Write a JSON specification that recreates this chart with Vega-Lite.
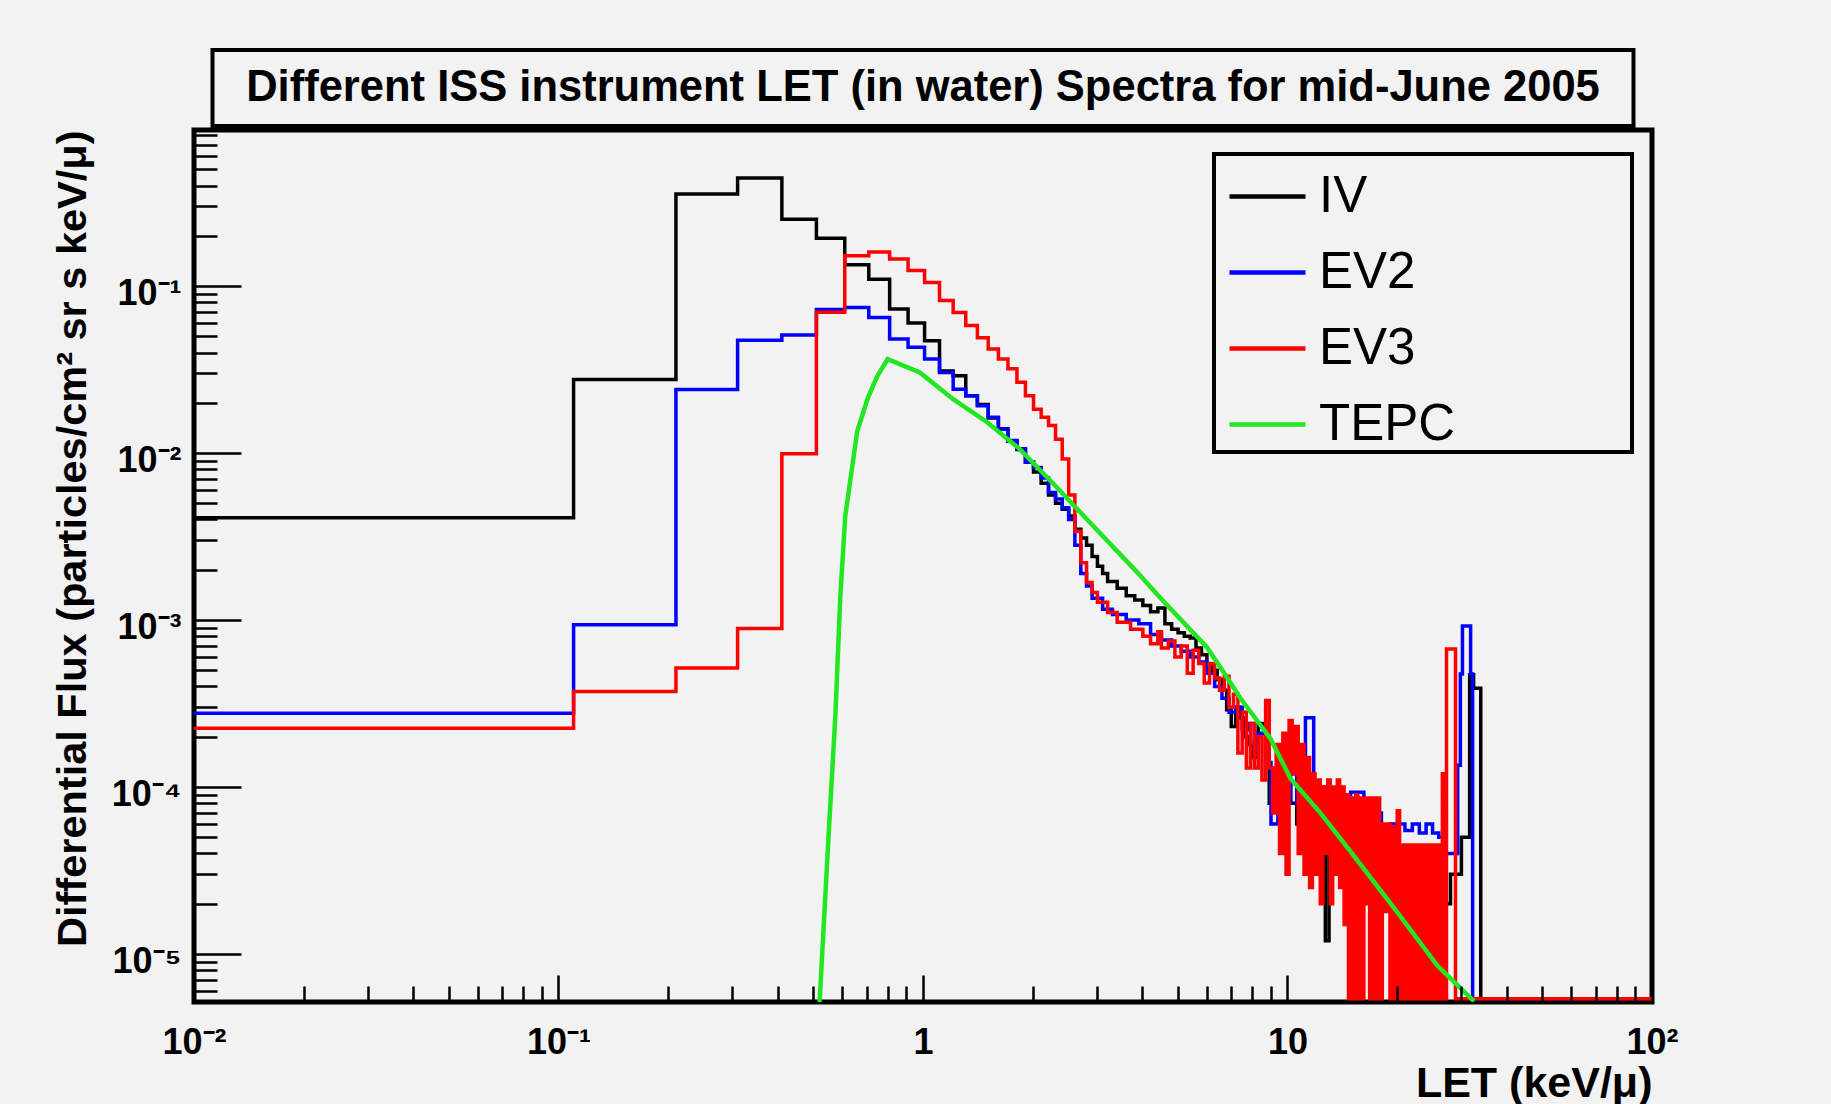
{
  "$schema": "https://vega.github.io/schema/vega-lite/v6.json",
  "background": "#f2f2f2",
  "padding": {"left": 49, "top": 48, "right": 153, "bottom": 0},
  "autosize": {"type": "pad"},
  "bounds": "flush",
  "center": true,
  "spacing": 4,
  "resolve": {"scale": {"color": "independent"}},
  "config": {"font": "Liberation Sans", "view": {"stroke": null}, "legend": {"strokeWidth": 4}},
  "vconcat": [
    {
      "width": 1421,
      "height": 76,
      "view": {"stroke": "#000000", "strokeWidth": 4, "fill": "#f2f2f2"},
      "data": {"values": [{"t": "Different ISS instrument LET (in water) Spectra for mid-June 2005"}]},
      "mark": {"type": "text", "font": "Liberation Sans", "fontWeight": "bold", "fontSize": 43.5, "color": "#000000"},
      "encoding": {"text": {"field": "t"}}
    },
    {
      "width": 1458,
      "height": 872,
      "view": {"stroke": "#000000", "strokeWidth": 5, "fill": "#f2f2f2"},
      "data": {"values": [
        {"s":"IV","x":0.01,"y":0.0041},{"s":"IV","x":0.11,"y":0.0276},{"s":"IV","x":0.21,"y":0.356},{"s":"IV","x":0.31,"y":0.443},{"s":"IV","x":0.41,"y":0.251},{"s":"IV","x":0.51,"y":0.193},{"s":"IV","x":0.61,"y":0.134},{"s":"IV","x":0.71,"y":0.110},{"s":"IV","x":0.81,"y":0.073},{"s":"IV","x":0.91,"y":0.060},{"s":"IV","x":1.01,"y":0.047},{"s":"IV","x":1.11,"y":0.031},{"s":"IV","x":1.21,"y":0.029},{"s":"IV","x":1.31,"y":0.022},{"s":"IV","x":1.41,"y":0.0195},{"s":"IV","x":1.51,"y":0.0162},{"s":"IV","x":1.61,"y":0.014},{"s":"IV","x":1.71,"y":0.0118},{"s":"IV","x":1.81,"y":0.0105},{"s":"IV","x":1.91,"y":0.0088},{"s":"IV","x":2.01,"y":0.0077},{"s":"IV","x":2.11,"y":0.0066},{"s":"IV","x":2.21,"y":0.0056},{"s":"IV","x":2.31,"y":0.0050},{"s":"IV","x":2.41,"y":0.0046},{"s":"IV","x":2.51,"y":0.0042},{"s":"IV","x":2.61,"y":0.0035},{"s":"IV","x":2.71,"y":0.0031},{"s":"IV","x":2.81,"y":0.0028},{"s":"IV","x":2.91,"y":0.0024},{"s":"IV","x":3.01,"y":0.0021},{"s":"IV","x":3.11,"y":0.0019},{"s":"IV","x":3.21,"y":0.0017},{"s":"IV","x":3.41,"y":0.00155},{"s":"IV","x":3.61,"y":0.0014},{"s":"IV","x":3.81,"y":0.00132},{"s":"IV","x":4.01,"y":0.00122},{"s":"IV","x":4.21,"y":0.00112},{"s":"IV","x":4.41,"y":0.00118},{"s":"IV","x":4.61,"y":0.00095},{"s":"IV","x":4.81,"y":0.00088},{"s":"IV","x":5.01,"y":0.00084},{"s":"IV","x":5.21,"y":0.00080},{"s":"IV","x":5.41,"y":0.00078},{"s":"IV","x":5.61,"y":0.00068},{"s":"IV","x":5.81,"y":0.00062},{"s":"IV","x":6.01,"y":0.00054},{"s":"IV","x":6.21,"y":0.00050},{"s":"IV","x":6.41,"y":0.00044},{"s":"IV","x":6.61,"y":0.00038},{"s":"IV","x":6.81,"y":0.00029},{"s":"IV","x":7.01,"y":0.00023},{"s":"IV","x":7.21,"y":0.00030},{"s":"IV","x":7.41,"y":0.00026},{"s":"IV","x":7.61,"y":0.00020},{"s":"IV","x":7.81,"y":0.00018},{"s":"IV","x":8.01,"y":0.00015},{"s":"IV","x":8.31,"y":0.00024},{"s":"IV","x":8.61,"y":0.00023},{"s":"IV","x":8.91,"y":0.00008},{"s":"IV","x":9.21,"y":0.00012},{"s":"IV","x":9.51,"y":0.00007},{"s":"IV","x":9.81,"y":0.00011},{"s":"IV","x":10.2,"y":0.00008},{"s":"IV","x":10.6,"y":0.00006},{"s":"IV","x":11.0,"y":0.00009},{"s":"IV","x":11.3,"y":0.00005},{"s":"IV","x":11.6,"y":0.000075},{"s":"IV","x":12.0,"y":0.00006},{"s":"IV","x":12.4,"y":0.00004},{"s":"IV","x":12.7,"y":0.000012},{"s":"IV","x":13.0,"y":0.00005},{"s":"IV","x":13.4,"y":0.00003},{"s":"IV","x":13.8,"y":0.00006},{"s":"IV","x":14.4,"y":0.00004},{"s":"IV","x":15.0,"y":0.00005},{"s":"IV","x":15.5,"y":0.0000054},{"s":"IV","x":16.0,"y":0.00004},{"s":"IV","x":16.6,"y":0.00003},{"s":"IV","x":17.2,"y":0.00005},{"s":"IV","x":18.0,"y":0.00004},{"s":"IV","x":19.0,"y":0.00004},{"s":"IV","x":20.0,"y":0.00003},{"s":"IV","x":21.6,"y":0.0000054},{"s":"IV","x":22.2,"y":0.00004},{"s":"IV","x":23.0,"y":0.00004},{"s":"IV","x":25.0,"y":0.00003},{"s":"IV","x":27.0,"y":0.00002},{"s":"IV","x":28.0,"y":0.00003},{"s":"IV","x":30.0,"y":0.00005},{"s":"IV","x":31.6,"y":0.00047},{"s":"IV","x":32.4,"y":0.00039},{"s":"IV","x":33.9,"y":0.0000054},{"s":"IV","x":100,"y":0.0000054},

        {"s":"EV2","x":0.01,"y":0.000277},{"s":"EV2","x":0.11,"y":0.000936},{"s":"EV2","x":0.21,"y":0.0240},{"s":"EV2","x":0.31,"y":0.0473},{"s":"EV2","x":0.41,"y":0.051},{"s":"EV2","x":0.51,"y":0.0725},{"s":"EV2","x":0.61,"y":0.0745},{"s":"EV2","x":0.71,"y":0.0649},{"s":"EV2","x":0.81,"y":0.0482},{"s":"EV2","x":0.91,"y":0.043},{"s":"EV2","x":1.01,"y":0.0366},{"s":"EV2","x":1.11,"y":0.0304},{"s":"EV2","x":1.21,"y":0.0241},{"s":"EV2","x":1.31,"y":0.022},{"s":"EV2","x":1.41,"y":0.0192},{"s":"EV2","x":1.51,"y":0.0164},{"s":"EV2","x":1.61,"y":0.0139},{"s":"EV2","x":1.71,"y":0.0119},{"s":"EV2","x":1.81,"y":0.0106},{"s":"EV2","x":1.91,"y":0.0088},{"s":"EV2","x":2.01,"y":0.0082},{"s":"EV2","x":2.11,"y":0.0071},{"s":"EV2","x":2.21,"y":0.0058},{"s":"EV2","x":2.31,"y":0.0053},{"s":"EV2","x":2.41,"y":0.0047},{"s":"EV2","x":2.51,"y":0.0040},{"s":"EV2","x":2.61,"y":0.0028},{"s":"EV2","x":2.71,"y":0.0019},{"s":"EV2","x":2.81,"y":0.0016},{"s":"EV2","x":2.91,"y":0.00135},{"s":"EV2","x":3.11,"y":0.00116},{"s":"EV2","x":3.31,"y":0.00108},{"s":"EV2","x":3.61,"y":0.00100},{"s":"EV2","x":3.91,"y":0.00095},{"s":"EV2","x":4.21,"y":0.00082},{"s":"EV2","x":4.51,"y":0.00076},{"s":"EV2","x":4.81,"y":0.00070},{"s":"EV2","x":5.11,"y":0.00065},{"s":"EV2","x":5.41,"y":0.00060},{"s":"EV2","x":5.71,"y":0.00056},{"s":"EV2","x":6.01,"y":0.00048},{"s":"EV2","x":6.31,"y":0.00040},{"s":"EV2","x":6.61,"y":0.00034},{"s":"EV2","x":6.91,"y":0.00028},{"s":"EV2","x":7.21,"y":0.00030},{"s":"EV2","x":7.51,"y":0.00022},{"s":"EV2","x":7.81,"y":0.00024},{"s":"EV2","x":8.11,"y":0.00016},{"s":"EV2","x":8.31,"y":0.00021},{"s":"EV2","x":8.71,"y":0.00014},{"s":"EV2","x":9.01,"y":0.00006},{"s":"EV2","x":9.41,"y":0.00011},{"s":"EV2","x":9.81,"y":0.00008},{"s":"EV2","x":10.2,"y":0.00012},{"s":"EV2","x":10.6,"y":0.00008},{"s":"EV2","x":11.0,"y":0.00015},{"s":"EV2","x":11.2,"y":0.00026},{"s":"EV2","x":11.8,"y":0.00008},{"s":"EV2","x":12.4,"y":0.00010},{"s":"EV2","x":13.0,"y":0.00007},{"s":"EV2","x":13.9,"y":0.00009},{"s":"EV2","x":14.9,"y":0.000093},{"s":"EV2","x":16.2,"y":0.000085},{"s":"EV2","x":17.0,"y":0.00007},{"s":"EV2","x":18.1,"y":0.000058},{"s":"EV2","x":19.1,"y":0.00006},{"s":"EV2","x":20.0,"y":0.00006},{"s":"EV2","x":21.0,"y":0.000055},{"s":"EV2","x":22.0,"y":0.00006},{"s":"EV2","x":23.0,"y":0.000053},{"s":"EV2","x":24.0,"y":0.00006},{"s":"EV2","x":25.0,"y":0.000053},{"s":"EV2","x":26.0,"y":0.00005},{"s":"EV2","x":27.0,"y":0.00004},{"s":"EV2","x":29.3,"y":0.000135},{"s":"EV2","x":29.8,"y":0.000475},{"s":"EV2","x":30.2,"y":0.00092},{"s":"EV2","x":31.8,"y":0.000475},{"s":"EV2","x":32.2,"y":0.0000054},{"s":"EV2","x":100,"y":0.0000054},

        {"s":"EV3","x":0.01,"y":0.000225},{"s":"EV3","x":0.11,"y":0.000373},{"s":"EV3","x":0.21,"y":0.000516},{"s":"EV3","x":0.31,"y":0.00089},{"s":"EV3","x":0.41,"y":0.0099},{"s":"EV3","x":0.51,"y":0.0698},{"s":"EV3","x":0.61,"y":0.152},{"s":"EV3","x":0.71,"y":0.160},{"s":"EV3","x":0.81,"y":0.145},{"s":"EV3","x":0.91,"y":0.124},{"s":"EV3","x":1.01,"y":0.105},{"s":"EV3","x":1.11,"y":0.082},{"s":"EV3","x":1.21,"y":0.0695},{"s":"EV3","x":1.31,"y":0.058},{"s":"EV3","x":1.41,"y":0.049},{"s":"EV3","x":1.51,"y":0.042},{"s":"EV3","x":1.61,"y":0.0366},{"s":"EV3","x":1.71,"y":0.032},{"s":"EV3","x":1.81,"y":0.0265},{"s":"EV3","x":1.91,"y":0.022},{"s":"EV3","x":2.01,"y":0.0183},{"s":"EV3","x":2.11,"y":0.0164},{"s":"EV3","x":2.21,"y":0.0146},{"s":"EV3","x":2.31,"y":0.0121},{"s":"EV3","x":2.41,"y":0.0092},{"s":"EV3","x":2.51,"y":0.0056},{"s":"EV3","x":2.61,"y":0.0034},{"s":"EV3","x":2.71,"y":0.0022},{"s":"EV3","x":2.81,"y":0.00168},{"s":"EV3","x":2.91,"y":0.00146},{"s":"EV3","x":3.01,"y":0.00128},{"s":"EV3","x":3.21,"y":0.00111},{"s":"EV3","x":3.41,"y":0.00097},{"s":"EV3","x":3.71,"y":0.00088},{"s":"EV3","x":4.01,"y":0.00080},{"s":"EV3","x":4.21,"y":0.00072},{"s":"EV3","x":4.41,"y":0.00085},{"s":"EV3","x":4.51,"y":0.00068},{"s":"EV3","x":4.71,"y":0.00075},{"s":"EV3","x":4.91,"y":0.00060},{"s":"EV3","x":5.11,"y":0.00070},{"s":"EV3","x":5.31,"y":0.00048},{"s":"EV3","x":5.51,"y":0.00066},{"s":"EV3","x":5.71,"y":0.00055},{"s":"EV3","x":5.91,"y":0.00042},{"s":"EV3","x":6.11,"y":0.00055},{"s":"EV3","x":6.31,"y":0.00045},{"s":"EV3","x":6.51,"y":0.00038},{"s":"EV3","x":6.71,"y":0.00046},{"s":"EV3","x":6.91,"y":0.00030},{"s":"EV3","x":7.11,"y":0.00036},{"s":"EV3","x":7.31,"y":0.00016},{"s":"EV3","x":7.51,"y":0.00028},{"s":"EV3","x":7.71,"y":0.00013},{"s":"EV3","x":7.91,"y":0.00024},{"s":"EV3","x":8.11,"y":0.00013},{"s":"EV3","x":8.31,"y":0.00020},{"s":"EV3","x":8.51,"y":0.00011},{"s":"EV3","x":8.71,"y":0.00033},{"s":"EV3","x":8.91,"y":0.00013},{"s":"EV3","x":9.11,"y":0.00007},{"s":"EV3","x":9.31,"y":0.00018},{"s":"EV3","x":9.51,"y":0.00004},{"s":"EV3","x":9.71,"y":0.00021},{"s":"EV3","x":9.91,"y":0.00003},{"s":"EV3","x":10.1,"y":0.00025},{"s":"EV3","x":10.3,"y":0.00012},{"s":"EV3","x":10.5,"y":0.00023},{"s":"EV3","x":10.7,"y":0.00004},{"s":"EV3","x":10.9,"y":0.00018},{"s":"EV3","x":11.1,"y":0.00003},{"s":"EV3","x":11.3,"y":0.00015},{"s":"EV3","x":11.5,"y":0.000025},{"s":"EV3","x":11.7,"y":0.00012},{"s":"EV3","x":11.9,"y":0.00003},{"s":"EV3","x":12.1,"y":0.00011},{"s":"EV3","x":12.3,"y":0.00002},{"s":"EV3","x":12.5,"y":0.00010},{"s":"EV3","x":12.7,"y":0.00004},{"s":"EV3","x":12.9,"y":0.00011},{"s":"EV3","x":13.1,"y":0.00002},{"s":"EV3","x":13.3,"y":0.00010},{"s":"EV3","x":13.5,"y":0.00003},{"s":"EV3","x":13.7,"y":0.00011},{"s":"EV3","x":13.9,"y":0.000025},{"s":"EV3","x":14.1,"y":0.00010},{"s":"EV3","x":14.3,"y":0.000015},{"s":"EV3","x":14.5,"y":0.00009},{"s":"EV3","x":14.7,"y":0.0000054},{"s":"EV3","x":15.0,"y":0.000086},{"s":"EV3","x":15.2,"y":0.0000054},{"s":"EV3","x":15.4,"y":0.00009},{"s":"EV3","x":15.6,"y":0.0000054},{"s":"EV3","x":15.8,"y":0.000086},{"s":"EV3","x":16.0,"y":0.0000054},{"s":"EV3","x":16.2,"y":0.000086},{"s":"EV3","x":16.4,"y":0.00002},{"s":"EV3","x":16.6,"y":0.000086},{"s":"EV3","x":16.8,"y":0.0000054},{"s":"EV3","x":17.0,"y":0.000086},{"s":"EV3","x":17.3,"y":0.0000054},{"s":"EV3","x":17.6,"y":0.000086},{"s":"EV3","x":17.9,"y":0.0000054},{"s":"EV3","x":18.2,"y":0.00006},{"s":"EV3","x":18.5,"y":0.000018},{"s":"EV3","x":18.8,"y":0.00006},{"s":"EV3","x":19.1,"y":0.0000054},{"s":"EV3","x":19.4,"y":0.000058},{"s":"EV3","x":19.7,"y":0.0000054},{"s":"EV3","x":20.0,"y":0.000072},{"s":"EV3","x":20.3,"y":0.0000054},{"s":"EV3","x":20.6,"y":0.000045},{"s":"EV3","x":20.9,"y":0.0000054},{"s":"EV3","x":21.2,"y":0.000045},{"s":"EV3","x":21.5,"y":0.0000054},{"s":"EV3","x":21.8,"y":0.000045},{"s":"EV3","x":22.1,"y":0.0000054},{"s":"EV3","x":22.4,"y":0.000045},{"s":"EV3","x":22.7,"y":0.0000054},{"s":"EV3","x":23.0,"y":0.000045},{"s":"EV3","x":23.3,"y":0.0000054},{"s":"EV3","x":23.6,"y":0.000045},{"s":"EV3","x":23.9,"y":0.0000054},{"s":"EV3","x":24.2,"y":0.000045},{"s":"EV3","x":24.5,"y":0.0000054},{"s":"EV3","x":24.8,"y":0.000045},{"s":"EV3","x":25.1,"y":0.0000054},{"s":"EV3","x":25.4,"y":0.000045},{"s":"EV3","x":25.7,"y":0.0000054},{"s":"EV3","x":26.0,"y":0.000045},{"s":"EV3","x":26.3,"y":0.0000054},{"s":"EV3","x":26.6,"y":0.00012},{"s":"EV3","x":27.0,"y":0.0000054},{"s":"EV3","x":27.3,"y":0.00067},{"s":"EV3","x":28.9,"y":0.0000054},{"s":"EV3","x":100,"y":0.0000054},

        {"s":"TEPC","x":0.52,"y":0.000005},{"s":"TEPC","x":0.551,"y":0.000052},{"s":"TEPC","x":0.575,"y":0.00027},{"s":"TEPC","x":0.593,"y":0.00137},{"s":"TEPC","x":0.612,"y":0.0042},{"s":"TEPC","x":0.66,"y":0.0135},{"s":"TEPC","x":0.706,"y":0.0214},{"s":"TEPC","x":0.75,"y":0.029},{"s":"TEPC","x":0.80,"y":0.0365},{"s":"TEPC","x":0.98,"y":0.0304},{"s":"TEPC","x":1.21,"y":0.021},{"s":"TEPC","x":1.5,"y":0.0153},{"s":"TEPC","x":1.84,"y":0.0106},{"s":"TEPC","x":2.285,"y":0.0065},{"s":"TEPC","x":2.82,"y":0.0040},{"s":"TEPC","x":3.87,"y":0.00193},{"s":"TEPC","x":4.5,"y":0.00134},{"s":"TEPC","x":6.0,"y":0.00069},{"s":"TEPC","x":6.55,"y":0.00052},{"s":"TEPC","x":7.43,"y":0.00034},{"s":"TEPC","x":8.99,"y":0.000194},{"s":"TEPC","x":10.2,"y":0.000112},{"s":"TEPC","x":12.3,"y":0.00007},{"s":"TEPC","x":14.9,"y":0.000041},{"s":"TEPC","x":20.0,"y":0.0000178},{"s":"TEPC","x":25.8,"y":0.0000085},{"s":"TEPC","x":32.5,"y":0.0000052}
      ]},
      "encoding": {
        "x": {
          "field": "x", "type": "quantitative",
          "scale": {"type": "log", "domain": [0.01, 100], "nice": false},
          "axis": {
            "values": [0.01,0.02,0.03,0.04,0.05,0.06,0.07,0.08,0.09,0.1,0.2,0.3,0.4,0.5,0.6,0.7,0.8,0.9,1,2,3,4,5,6,7,8,9,10,20,30,40,50,60,70,80,90,100],
            "labelExpr": "abs(log(datum.value)/LN10 - round(log(datum.value)/LN10)) < 0.001 ? ['10⁻²','10⁻¹','1','10','10²'][round(log(datum.value)/LN10)+2] : ''",
            "tickSize": {"condition": {"test": "abs(log(datum.value)/LN10 - round(log(datum.value)/LN10)) < 0.001", "value": -27}, "value": -16},
            "tickWidth": 2.5, "tickColor": "#000000", "domain": false, "grid": false,
            "labelFont": "Liberation Sans", "labelFontWeight": "bold", "labelFontSize": 36, "labelColor": "#000000",
            "labelPadding": 50, "labelOverlap": false, "labelFlush": false, "labelBound": false,
            "title": "LET (keV/μ)", "titleFont": "Liberation Sans", "titleFontSize": 43, "titleFontWeight": "bold", "titleColor": "#000000",
            "titleAnchor": "end", "titlePadding": -9, "zindex": 1
          }
        },
        "y": {
          "field": "y", "type": "quantitative",
          "scale": {"type": "log", "domain": [0.00000516, 0.86], "nice": false},
          "axis": {
            "values": [0.000006,0.000007,0.000008,0.000009,0.00001,0.00002,0.00003,0.00004,0.00005,0.00006,0.00007,0.00008,0.00009,0.0001,0.0002,0.0003,0.0004,0.0005,0.0006,0.0007,0.0008,0.0009,0.001,0.002,0.003,0.004,0.005,0.006,0.007,0.008,0.009,0.01,0.02,0.03,0.04,0.05,0.06,0.07,0.08,0.09,0.1,0.2,0.3,0.4,0.5,0.6,0.7,0.8],
            "labelExpr": "abs(log(datum.value)/LN10 - round(log(datum.value)/LN10)) < 0.001 ? ['10⁻⁵','10⁻⁴','10⁻³','10⁻²','10⁻¹'][round(log(datum.value)/LN10)+5] : ''",
            "tickSize": {"condition": {"test": "abs(log(datum.value)/LN10 - round(log(datum.value)/LN10)) < 0.001", "value": -47}, "value": -23},
            "tickWidth": 2.5, "tickColor": "#000000", "domain": false, "grid": false,
            "labelFont": "Liberation Sans", "labelFontWeight": "bold", "labelFontSize": 36, "labelColor": "#000000",
            "labelPadding": 60, "labelOffset": 7, "labelOverlap": false, "labelFlush": false, "labelBound": false,
            "title": "Differential Flux (particles/cm² sr s keV/μ)", "titleFont": "Liberation Sans", "titleFontSize": 41.5, "titleFontWeight": "bold", "titleColor": "#000000",
            "titleAnchor": "end", "titlePadding": 17, "zindex": 1
          }
        },
        "color": {
          "field": "s", "type": "nominal",
          "scale": {"domain": ["IV", "EV2", "EV3", "TEPC"], "range": ["#000000", "#0000ff", "#ff0000", "#22e622"]},
          "legend": {
            "orient": "none", "legendX": 1020, "legendY": 24,
            "title": "\u00a0", "titleOrient": "right", "titlePadding": 175, "titleFontSize": 20,
            "strokeColor": "#000000", "fillColor": "#f2f2f2",
            "padding": 2, "rowPadding": 10,
            "symbolType": "stroke", "symbolSize": 5776, "symbolStrokeWidth": 4.5, "symbolOffset": 11,
            "labelOffset": 11, "labelFontSize": 51, "labelFont": "Liberation Sans", "labelColor": "#000000", "labelLimit": 1000
          }
        }
      },
      "layer": [
        {"transform": [{"filter": "datum.s === 'IV'"}], "mark": {"type": "line", "interpolate": "step-after", "strokeWidth": 3.5, "clip": true}},
        {"transform": [{"filter": "datum.s === 'EV2'"}], "mark": {"type": "line", "interpolate": "step-after", "strokeWidth": 3.5, "clip": true}},
        {"transform": [{"filter": "datum.s === 'EV3'"}], "mark": {"type": "line", "interpolate": "step-after", "strokeWidth": 3.5, "clip": true}},
        {"transform": [{"filter": "datum.s === 'TEPC'"}], "mark": {"type": "line", "strokeWidth": 4.5, "clip": true}}
      ]
    }
  ]
}
